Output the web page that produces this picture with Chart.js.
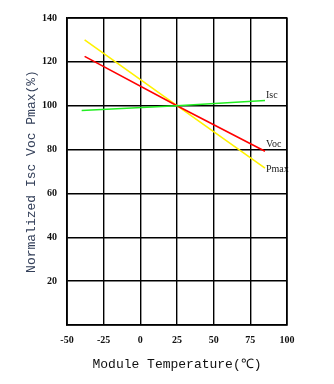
<!DOCTYPE html>
<html lang="en">
<head>
<meta charset="utf-8"/>
<title>Temperature characteristics</title>
<script src="https://cdn.jsdelivr.net/npm/chart.js"></script>
<style>
    html, body { margin: 0; padding: 0; background: #fff; }
    #wrap { width: 334px; height: 384px; }
</style>
</head>
<body>
<div id="wrap"><canvas id="tempChart" width="334" height="384"></canvas></div>
<script>
    // temperature (deg C) and normalized values (%)
    var iscTemps = [-40, 25, 85];
    var iscValues = [97.8, 100, 102.4];
    var vocTemps = [-38, 25, 85];
    var vocValues = [122.5, 100, 79.2];
    var pmaxTemps = [-38, 25, 85];
    var pmaxValues = [130, 100, 71.5];
    var xTicks = [-50, -25, 0, 25, 50, 75, 100];
    var yTicks = [20, 40, 60, 80, 100, 120, 140];

    function pts(xs, ys) {
        return xs.map(function (x, i) { return { x: x, y: ys[i] }; });
    }

    // series name written just past the end of each line
    const endLabels = {
        id: 'endLabels',
        afterDatasetsDraw: function (chart) {
            var ctx = chart.ctx;
            var offsets = [-5, -7, 1];
            ctx.save();
            ctx.font = '10px "Liberation Serif"';
            ctx.fillStyle = '#222';
            ctx.textBaseline = 'middle';
            chart.data.datasets.forEach(function (ds, i) {
                var meta = chart.getDatasetMeta(i);
                var last = meta.data[meta.data.length - 1];
                ctx.fillText(ds.label, last.x + 1, last.y + offsets[i]);
            });
            ctx.restore();
        }
    };

    var ctx = document.getElementById('tempChart');
    var chart = new Chart(ctx, {
        type: 'line',
        data: {
            datasets: [
                { label: 'Isc', data: pts(iscTemps, iscValues), borderColor: '#22ee22', borderWidth: 1.6 },
                { label: 'Voc', data: pts(vocTemps, vocValues), borderColor: '#ff0000', borderWidth: 1.6 },
                { label: 'Pmax', data: pts(pmaxTemps, pmaxValues), borderColor: '#fff200', borderWidth: 1.6 }
            ]
        },
        options: {
            responsive: false,
            animation: false,
            events: [],
            elements: { point: { radius: 0 }, line: { tension: 0 } },
            layout: { padding: { top: 18, right: 47, left: 0, bottom: 0 } },
            plugins: { legend: { display: false }, tooltip: { enabled: false } },
            scales: {
                x: {
                    type: 'linear',
                    min: -50,
                    max: 100,
                    afterBuildTicks: function (s) { s.ticks = xTicks.map(function (v) { return { value: v }; }); },
                    afterFit: function (s) { s.height = 59; },
                    grid: { color: '#000', lineWidth: 1.4, drawTicks: false },
                    border: { color: '#000', width: 1.4 },
                    ticks: {
                        padding: 9,
                        color: '#111',
                        font: { family: '"Liberation Serif"', size: 10, weight: 'bold' }
                    },
                    title: {
                        display: true,
                        text: 'Module Temperature(℃)',
                        color: '#111',
                        font: { family: '"Liberation Mono"', size: 13 },
                        padding: { top: 0, bottom: 12 }
                    }
                },
                y: {
                    min: 0,
                    max: 140,
                    afterBuildTicks: function (s) { s.ticks = yTicks.map(function (v) { return { value: v }; }); },
                    afterFit: function (s) { s.width = 67; },
                    grid: { color: '#000', lineWidth: 1.4, drawTicks: false },
                    border: { color: '#000', width: 1.4 },
                    ticks: {
                        padding: 10,
                        color: '#111',
                        font: { family: '"Liberation Serif"', size: 10, weight: 'bold' }
                    },
                    title: {
                        display: true,
                        text: 'Normalized Isc Voc Pmax(%)',
                        color: '#34405a',
                        font: { family: '"Liberation Mono"', size: 13 },
                        padding: { top: 24, bottom: 0 }
                    }
                }
            }
        },
        plugins: [endLabels, {
            id: 'frame',
            afterDraw: function (chart) {
                var a = chart.chartArea, c = chart.ctx;
                c.save();
                c.strokeStyle = '#000';
                c.lineWidth = 1.4;
                c.strokeRect(a.left, a.top, a.right - a.left, a.bottom - a.top);
                c.restore();
            }
        }]
    });
</script>
</body>
</html>
